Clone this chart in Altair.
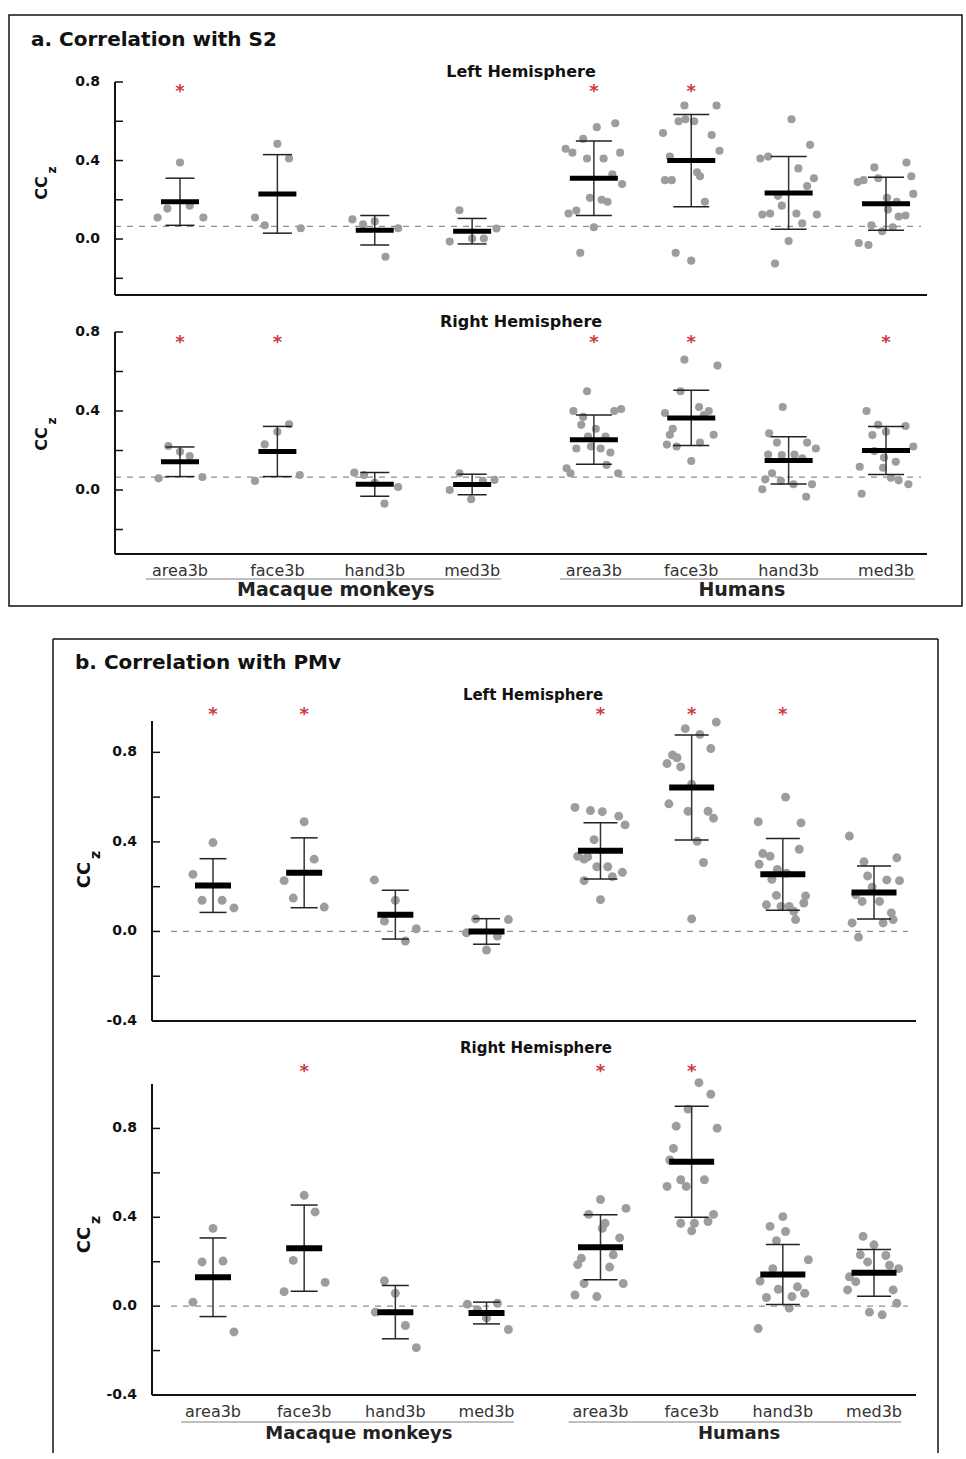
import altair as alt
import pandas as pd

REGIONS = ["area3b", "face3b", "hand3b", "med3b"]
SPECIES = ["Macaque monkeys", "Humans"]
HEMIS = ["Left Hemisphere", "Right Hemisphere"]
SECTIONS = ["a. Correlation with S2", "b. Correlation with PMv"]

# ---------------- a. Correlation with S2, left hemisphere ----------------
A_L_VALUES = [
    [0.39, 0.155, 0.17, 0.11, 0.11],
    [0.485, 0.41, 0.11, 0.07, 0.055],
    [0.10, 0.075, 0.09, 0.055, -0.09],
    [0.147, -0.013, 0.003, 0.003, 0.054],
    [0.57, 0.59, 0.51, 0.46, 0.44, 0.41, 0.41, 0.44, 0.33, 0.28, 0.21, 0.20, 0.19, 0.145, 0.13, 0.06, -0.07],
    [0.68, 0.68, 0.60, 0.61, 0.60, 0.54, 0.53, 0.45, 0.42, 0.34, 0.32, 0.30, 0.30, 0.19, -0.07, -0.11],
    [0.61, 0.48, 0.41, 0.42, 0.36, 0.31, 0.27, 0.22, 0.17, 0.125, 0.13, 0.13, 0.125, 0.08, -0.01, -0.125],
    [0.39, 0.365, 0.32, 0.31, 0.29, 0.30, 0.23, 0.21, 0.19, 0.15, 0.115, 0.12, 0.07, 0.06, 0.04, -0.02, -0.03],
]
A_L_JITTER = [
    [0, -0.13, 0.10, -0.23, 0.24],
    [0, 0.12, -0.23, -0.13, 0.24],
    [-0.23, -0.12, 0, 0.24, 0.11],
    [-0.13, -0.23, 0, 0.12, 0.25],
    [0.03, 0.22, -0.11, -0.29, -0.22, -0.07, 0.10, 0.27, 0.19, 0.29, -0.04, 0.08, 0.14, -0.18, -0.26, 0, -0.14],
    [-0.07, 0.26, -0.13, -0.06, 0.03, -0.29, 0.21, 0.29, -0.22, 0.06, 0.09, -0.27, -0.20, 0.14, -0.16, 0],
    [0.03, 0.22, -0.29, -0.21, 0.10, 0.26, 0.19, -0.11, -0.07, -0.27, -0.19, 0.08, 0.29, 0.14, 0, -0.14],
    [0.21, -0.12, 0.26, -0.08, -0.29, -0.23, 0.28, 0.01, 0.11, 0.02, 0.13, 0.20, -0.15, 0.07, -0.04, -0.28, -0.18],
]
A_L_MEAN = [0.19, 0.23, 0.045, 0.04, 0.31, 0.40, 0.235, 0.18]
A_L_SD = [0.12, 0.20, 0.075, 0.065, 0.19, 0.235, 0.185, 0.135]
A_L_STAR = [1, 0, 0, 0, 1, 1, 0, 0]

# ---------------- a. Correlation with S2, right hemisphere ----------------
A_R_VALUES = [
    [0.223, 0.194, 0.172, 0.059, 0.066],
    [0.333, 0.295, 0.231, 0.046, 0.076],
    [0.088, 0.076, 0.037, 0.015, -0.069],
    [0.085, 0.0, -0.047, 0.046, 0.051],
    [0.50, 0.40, 0.37, 0.40, 0.41, 0.33, 0.31, 0.27, 0.27, 0.21, 0.22, 0.21, 0.19, 0.11, 0.085, 0.127, 0.085],
    [0.66, 0.63, 0.50, 0.39, 0.42, 0.40, 0.38, 0.31, 0.28, 0.28, 0.23, 0.22, 0.24, 0.147],
    [0.42, 0.287, 0.24, 0.24, 0.21, 0.18, 0.177, 0.18, 0.16, 0.085, 0.054, 0.046, 0.029, 0.029, 0.004, -0.034],
    [0.40, 0.33, 0.324, 0.278, 0.295, 0.22, 0.197, 0.164, 0.143, 0.118, 0.113, 0.062, 0.049, 0.029, -0.019],
]
A_R_JITTER = [
    [-0.12, 0, 0.10, -0.22, 0.23],
    [0.12, 0, -0.13, -0.23, 0.23],
    [-0.21, -0.11, 0, 0.24, 0.10],
    [-0.13, -0.23, -0.01, 0.11, 0.23],
    [-0.07, -0.21, -0.11, 0.21, 0.28, -0.13, 0.02, -0.06, 0.12, -0.18, -0.03, 0.07, 0.17, -0.28, -0.24, 0.13, 0.25],
    [-0.07, 0.27, -0.11, -0.27, 0.08, 0.18, 0.13, -0.19, -0.22, 0.23, -0.25, -0.15, 0.09, 0],
    [-0.06, -0.20, -0.12, 0.19, 0.28, -0.21, -0.07, 0.06, 0.14, -0.17, -0.24, -0.08, 0.05, 0.24, -0.27, 0.18],
    [-0.20, -0.08, 0.20, -0.14, 0, 0.28, -0.12, -0.02, 0.10, -0.27, -0.03, 0.05, 0.13, 0.23, -0.25],
]
A_R_MEAN = [0.143, 0.195, 0.029, 0.028, 0.255, 0.365, 0.15, 0.20]
A_R_SD = [0.075, 0.127, 0.06, 0.052, 0.125, 0.14, 0.12, 0.122]
A_R_STAR = [1, 1, 0, 0, 1, 1, 0, 1]

# ---------------- b. Correlation with PMv, left hemisphere ----------------
B_L_VALUES = [
    [0.397, 0.255, 0.139, 0.139, 0.105],
    [0.49, 0.323, 0.227, 0.149, 0.109],
    [0.23, 0.139, 0.046, 0.012, -0.043],
    [0.056, -0.006, 0.053, -0.021, -0.083],
    [0.554, 0.54, 0.535, 0.515, 0.476, 0.41, 0.336, 0.323, 0.333, 0.289, 0.289, 0.245, 0.264, 0.227, 0.142],
    [0.935, 0.906, 0.88, 0.817, 0.788, 0.776, 0.75, 0.735, 0.658, 0.57, 0.537, 0.537, 0.506, 0.403, 0.308, 0.056],
    [0.60, 0.49, 0.485, 0.367, 0.348, 0.336, 0.30, 0.277, 0.233, 0.26, 0.161, 0.159, 0.127, 0.119, 0.112, 0.112, 0.09, 0.053],
    [0.426, 0.329, 0.311, 0.248, 0.23, 0.227, 0.198, 0.164, 0.134, 0.134, 0.083, 0.053, 0.038, 0.038, -0.025],
]
B_L_JITTER = [
    [0, -0.22, -0.12, 0.10, 0.23],
    [0, 0.11, -0.22, -0.12, 0.22],
    [-0.23, 0, -0.12, 0.23, 0.11],
    [-0.12, -0.22, 0.24, 0.12, 0],
    [-0.28, -0.11, 0.02, 0.20, 0.27, -0.07, -0.25, -0.18, -0.14, -0.04, 0.08, 0.13, 0.24, -0.18, 0],
    [0.27, -0.07, 0.09, 0.21, -0.21, -0.16, -0.27, -0.12, 0, -0.25, -0.04, 0.18, 0.24, 0.06, 0.13, 0],
    [0.03, -0.27, 0.20, 0.18, -0.22, -0.14, -0.26, -0.06, -0.12, 0.04, -0.07, 0.25, 0.23, -0.18, -0.02, 0.07, 0.12, 0.14],
    [-0.27, 0.25, -0.11, -0.07, 0.14, 0.28, -0.02, -0.20, -0.13, 0.06, 0.19, 0.21, -0.24, 0.10, -0.17],
]
B_L_MEAN = [0.205, 0.262, 0.075, 0.0, 0.36, 0.643, 0.255, 0.174]
B_L_SD = [0.12, 0.156, 0.109, 0.057, 0.126, 0.235, 0.16, 0.118]
B_L_STAR = [1, 1, 0, 0, 1, 1, 1, 0]

# ---------------- b. Correlation with PMv, right hemisphere ----------------
B_R_VALUES = [
    [0.35, 0.199, 0.203, 0.018, -0.116],
    [0.499, 0.424, 0.206, 0.065, 0.107],
    [0.114, 0.058, -0.027, -0.087, -0.187],
    [0.009, 0.013, -0.016, -0.053, -0.105],
    [0.48, 0.44, 0.413, 0.373, 0.35, 0.307, 0.216, 0.231, 0.187, 0.176, 0.102, 0.102, 0.05, 0.043],
    [1.006, 0.954, 0.887, 0.81, 0.801, 0.71, 0.658, 0.539, 0.569, 0.539, 0.569, 0.413, 0.381, 0.373, 0.373, 0.339],
    [0.403, 0.359, 0.336, 0.295, 0.209, 0.169, 0.113, 0.087, 0.076, 0.058, 0.043, 0.039, -0.009, -0.101],
    [0.314, 0.276, 0.228, 0.231, 0.199, 0.169, 0.184, 0.132, 0.11, 0.073, 0.073, 0.013, -0.027, -0.039],
]
B_R_JITTER = [
    [0, -0.12, 0.11, -0.22, 0.23],
    [0, 0.12, -0.12, -0.22, 0.23],
    [-0.12, 0, -0.22, 0.11, 0.23],
    [-0.21, 0.12, -0.10, 0, 0.24],
    [0, 0.28, -0.13, 0.05, 0.02, 0.21, -0.21, 0.14, -0.25, 0.10, -0.18, 0.25, -0.28, -0.04],
    [0.08, 0.21, -0.04, -0.17, 0.28, -0.20, -0.24, -0.27, -0.12, -0.06, 0.14, 0.24, 0.18, -0.12, 0.03, 0],
    [0, -0.14, 0.03, -0.07, 0.28, -0.11, -0.25, 0.16, -0.05, 0.24, 0.10, -0.18, 0.07, -0.27],
    [-0.12, 0, 0.13, -0.15, -0.07, 0.27, 0.17, -0.27, -0.20, -0.29, 0.21, 0.25, -0.05, 0.09],
]
B_R_MEAN = [0.13, 0.261, -0.027, -0.031, 0.265, 0.65, 0.142, 0.15]
B_R_SD = [0.177, 0.194, 0.12, 0.049, 0.146, 0.25, 0.135, 0.105]
B_R_STAR = [0, 1, 0, 0, 1, 1, 0, 0]

A_TICKS = [-0.2, 0.0, 0.2, 0.4, 0.6, 0.8]
A_LABELS = [0.0, 0.4, 0.8]
B_TICKS = [-0.4, -0.2, 0.0, 0.2, 0.4, 0.6, 0.8]
B_LABELS = [-0.4, 0.0, 0.4, 0.8]
A_REF = 0.065
B_REF = 0.0

# ---------------- styling ----------------
FONT = "DejaVu Sans"
INK = "#111111"
DOT = "#9d9d9d"
STARC = "#cc3a3a"
ONE = pd.DataFrame({"k": [0]})
W = 812


def slot(g):
    return g + (0.25 if g >= 4 else 0.0)


def txt(text, x, y, size, weight="normal", align="center", angle=0, color=INK):
    return alt.Chart(ONE).mark_text(
        text=text, font=FONT, fontSize=size, fontWeight=weight, align=align,
        baseline="middle", angle=angle, color=color,
    ).encode(x=alt.value(x), y=alt.value(y))


def hline(x1, x2, y, color=INK, width=1.5):
    return alt.Chart(ONE).mark_rule(color=color, strokeWidth=width).encode(
        x=alt.value(x1), x2=alt.value(x2), y=alt.value(y))


def vline(x, y1, y2, color=INK, width=1.5):
    return alt.Chart(ONE).mark_rule(color=color, strokeWidth=width).encode(
        x=alt.value(x), y=alt.value(y1), y2=alt.value(y2))


def panel(values, jitter, means, sds, stars, c):
    xs = alt.Scale(domain=[0, 7.25], range=c["xr"])
    ys = alt.Scale(domain=c["yd"], range=c["yr"], nice=False, zero=False)
    rows = []
    for g in range(8):
        for v, j in zip(values[g], jitter[g]):
            rows.append({"pos": slot(g) + j, "v": v})
    dots = pd.DataFrame(rows)
    summ = pd.DataFrame({
        "pos": [slot(g) for g in range(8)],
        "mean": means,
        "lo": [m - s for m, s in zip(means, sds)],
        "hi": [m + s for m, s in zip(means, sds)],
        "star": stars,
        "bw": [c["bw"][0]] * 4 + [c["bw"][1]] * 4,
        "cw": [c["cw"][0]] * 4 + [c["cw"][1]] * 4,
    })
    X = alt.X("pos:Q", scale=xs, axis=None)

    def Y(f):
        return alt.Y(f, scale=ys, axis=None)

    ax = c["ax"]
    layers = []
    # reference (dashed) line
    layers.append(alt.Chart(pd.DataFrame({"b": [c["ref"]]})).mark_rule(
        color="#8f8f8f", strokeDash=[6, 6], strokeWidth=1.2).encode(
        y=Y("b:Q"), x=alt.value(c["dash"][0]), x2=alt.value(c["dash"][1])))
    # individual subjects
    layers.append(alt.Chart(dots).mark_circle(size=c["dot"], color=DOT, opacity=1).encode(
        x=X, y=Y("v:Q")))
    base = alt.Chart(summ)
    layers.append(base.mark_rule(color="#333333", strokeWidth=1.5).encode(
        x=X, y=Y("lo:Q"), y2="hi:Q"))
    for f in ["lo", "hi"]:
        layers.append(base.mark_tick(orient="horizontal", thickness=1.5, color="#222222",
                                     opacity=1).encode(
            x=X, y=Y(f + ":Q"), size=alt.Size("cw:Q", scale=None)))
    layers.append(base.mark_tick(orient="horizontal", thickness=c["bt"], color="#000000",
                                 opacity=1).encode(
        x=X, y=Y("mean:Q"), size=alt.Size("bw:Q", scale=None)))
    layers.append(base.transform_filter("datum.star == 1").mark_text(
        text="*", font=FONT, fontSize=18, fontWeight="bold", color=STARC, baseline="middle").encode(
        x=X, y=alt.value(c["stary"] + 1)))
    # y axis: line, inward ticks, labels
    layers.append(vline(ax, c["yr"][1], c["yr"][0], width=2))
    layers.append(alt.Chart(pd.DataFrame({"t": c["ticks"]})).mark_rule(
        color=INK, strokeWidth=1.5).encode(
        y=Y("t:Q"), x=alt.value(ax), x2=alt.value(ax + 8)))
    labs = pd.DataFrame({"t": c["labels"], "s": [f"{v:.1f}" for v in c["labels"]]})
    layers.append(alt.Chart(labs).mark_text(font=FONT, fontSize=14, fontWeight="bold", color=INK,
                                            align="right", baseline="middle").encode(
        y=Y("t:Q"), x=alt.value(ax - c["lp"]), text="s:N"))
    # x axis line
    layers.append(hline(ax, c["xend"], c["yr"][0], width=2))
    layers.append(txt(c["hemi"], c["hemixy"][0], c["hemixy"][1], c["hs"], "bold"))
    layers.append(txt("CC", c["cc"][0], c["cc"][1], c["ccs"], "bold", angle=270))
    layers.append(txt("z", c["z"][0], c["z"][1], c["ccs"] - 4, "bold", angle=270))
    if c.get("bottom"):
        lab = pd.DataFrame({"pos": [slot(g) for g in range(8)], "name": REGIONS * 2})
        layers.append(alt.Chart(lab).mark_text(font=FONT, fontSize=16, color="#333333",
                                               baseline="middle").encode(
            x=X, y=alt.value(c["laby"]), text="name:N"))
        und = pd.DataFrame({"u0": [-0.35, 3.9], "u1": [3.3, 7.55],
                            "mid": [1.6, 5.77], "sp": SPECIES})
        layers.append(alt.Chart(und).mark_rule(color="#aaaaaa", strokeWidth=1.5).encode(
            x=alt.X("u0:Q", scale=xs, axis=None), x2="u1:Q", y=alt.value(c["undy"])))
        layers.append(alt.Chart(und).mark_text(font=FONT, fontSize=c["gts"], fontWeight="bold",
                                               color="#222222", baseline="middle").encode(
            x=alt.X("mid:Q", scale=xs, axis=None), y=alt.value(c["gty"]), text="sp:N"))
    layers.extend(c.get("extra", []))
    return alt.layer(*layers).properties(width=W, height=c["h"])


A_COMMON = dict(xr=[65, 771], ax=0, xend=812, labels=A_LABELS, ticks=A_TICKS, lp=15, hs=16,
                ref=A_REF, dash=[0, 806], dot=66, bw=[38, 48], cw=[29, 36], bt=5, ccs=16, gts=19)
B_COMMON = dict(xr=[98, 759], ax=37, xend=801, labels=B_LABELS, ticks=B_TICKS, lp=15, hs=15,
                ref=B_REF, dash=[56, 793], dot=80, bw=[36, 45], cw=[27, 34], bt=6, ccs=18, gts=18)

frame_a = alt.Chart(ONE).mark_rect(fillOpacity=0, stroke=INK, strokeWidth=1.5).encode(
    x=alt.value(-106), x2=alt.value(847), y=alt.value(-46), y2=alt.value(545))

cfg_al = dict(A_COMMON, h=260, yd=[-0.285, 0.8], yr=[234, 21], stary=30,
              hemi=HEMIS[0], hemixy=(406, 11), cc=(-73, 127), z=(-63, 109),
              extra=[frame_a, txt(SECTIONS[0], -84, -21, 20, "bold", align="left")])
cfg_ar = dict(A_COMMON, h=320, yd=[-0.324, 0.8], yr=[233, 11], stary=21,
              hemi=HEMIS[1], hemixy=(406, 1), cc=(-73, 118), z=(-63, 100),
              bottom=True, laby=250, undy=258, gty=269)
cfg_bl = dict(B_COMMON, h=400, yd=[-0.4, 0.94], yr=[380, 80], stary=73,
              hemi=HEMIS[0], hemixy=(418, 54), cc=(-30, 234), z=(-19, 214),
              extra=[hline(-62, 823, -2), vline(-62, -2, 812), vline(823, -2, 812),
                     txt(SECTIONS[1], -40, 22, 20, "bold", align="left")])
cfg_br = dict(B_COMMON, h=412, yd=[-0.4, 1.0], yr=[354, 43], stary=30,
              hemi=HEMIS[1], hemixy=(421, 7), cc=(-30, 199), z=(-19, 179),
              bottom=True, laby=371, undy=381, gty=393)

p_al = panel(A_L_VALUES, A_L_JITTER, A_L_MEAN, A_L_SD, A_L_STAR, cfg_al)
p_ar = panel(A_R_VALUES, A_R_JITTER, A_R_MEAN, A_R_SD, A_R_STAR, cfg_ar)
p_bl = panel(B_L_VALUES, B_L_JITTER, B_L_MEAN, B_L_SD, B_L_STAR, cfg_bl)
p_br = panel(B_R_VALUES, B_R_JITTER, B_R_MEAN, B_R_SD, B_R_STAR, cfg_br)

chart = alt.vconcat(p_al, p_ar, p_bl, p_br, spacing=0, bounds="flush").properties(
    padding={"left": 8, "top": 14, "right": 2, "bottom": 0},
    background="white",
).configure(font=FONT).configure_view(strokeWidth=0, stroke="transparent")

chart.save("out.html", embed_options={"renderer": "svg", "actions": False})
